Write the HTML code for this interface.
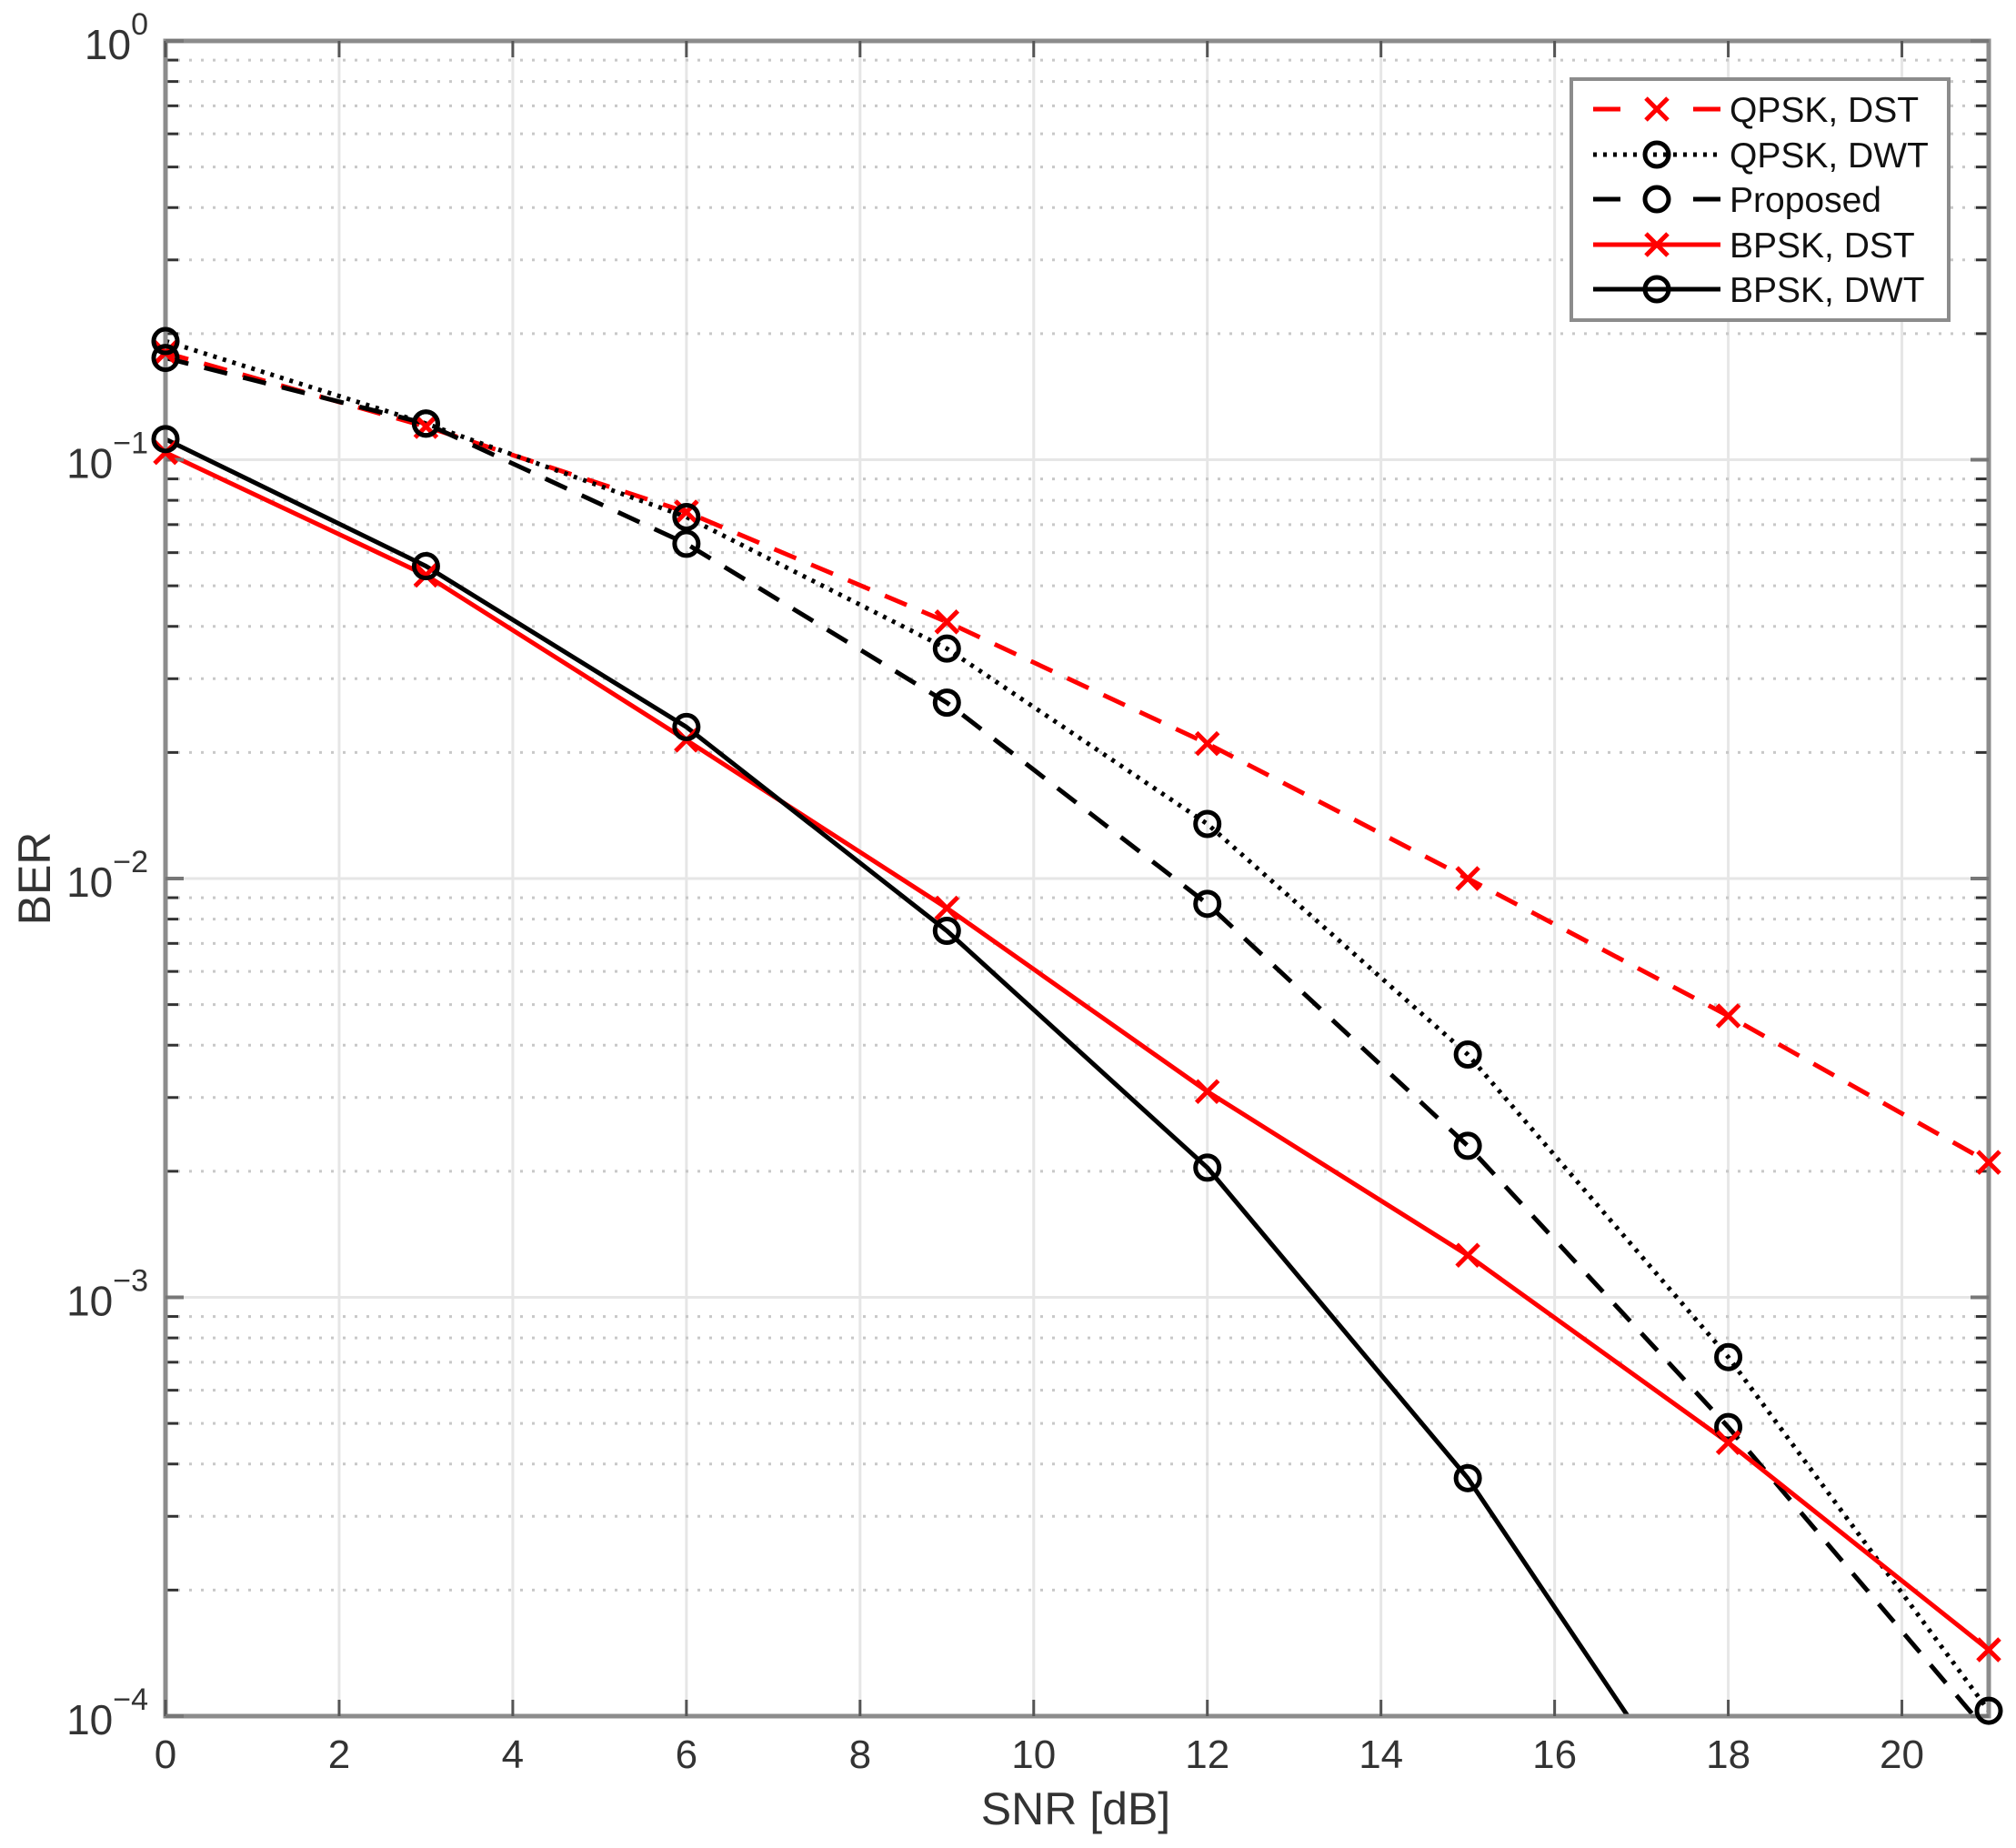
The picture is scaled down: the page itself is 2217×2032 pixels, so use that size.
<!DOCTYPE html>
<html><head><meta charset="utf-8"><style>
html,body{margin:0;padding:0;background:#fff;}
svg{display:block;font-family:"Liberation Sans",Arial,sans-serif;}
</style></head><body>
<svg id="chart" width="2217" height="2032" viewBox="0 0 2217 2032" xmlns="http://www.w3.org/2000/svg">
<defs><clipPath id="pc"><rect x="182" y="45" width="2005" height="1842"/></clipPath></defs>
<rect x="0" y="0" width="2217" height="2032" fill="#fff"/>
<g id="grid"></g>
<g id="series" clip-path="url(#pc)"></g>
<g id="axes"></g>
<g id="markers"></g>
<g id="legend"></g>
</svg>
<script>
const snr = [0, 3, 6, 9, 12, 15, 18, 21];
const qpskDst = [0.18, 0.12, 0.075, 0.041, 0.021, 0.0100, 0.0047, 0.0021];
const qpskDwt = [0.192, 0.122, 0.073, 0.0354, 0.0135, 0.0038, 0.00072, 0.000103];
const proposed = [0.175, 0.122, 0.063, 0.0263, 0.0087, 0.0023, 0.00049, 0.000091];
const bpskDst = [0.104, 0.053, 0.0214, 0.0085, 0.0031, 0.00126, 0.00045, 0.000144];
const bpskDwt = [0.112, 0.0557, 0.023, 0.0075, 0.00204, 0.00037, 0.000044];
const xTicks = [0, 2, 4, 6, 8, 10, 12, 14, 16, 18, 20];
const yDecades = [0, -1, -2, -3, -4];
const seriesNames = ["QPSK, DST", "QPSK, DWT", "Proposed", "BPSK, DST", "BPSK, DWT"];

const NS = "http://www.w3.org/2000/svg";
const X0 = 182, X1 = 2187, Y0 = 45, Y1 = 1887;
const xMin = 0, xMax = 21, lMin = -4, lMax = 0;
const sx = v => X0 + (v - xMin) / (xMax - xMin) * (X1 - X0);
const sy = v => Y1 - (Math.log10(v) - lMin) / (lMax - lMin) * (Y1 - Y0);
function mk(tag, attrs, parent) {
  const e = document.createElementNS(NS, tag);
  for (const k in attrs) e.setAttribute(k, attrs[k]);
  parent.appendChild(e);
  return e;
}
const grid = document.getElementById('grid');
const axes = document.getElementById('axes');
const ser = document.getElementById('series');
const mkr = document.getElementById('markers');
const leg = document.getElementById('legend');

xTicks.forEach(t => {
  const l = mk('line', {x1: sx(t), x2: sx(t), y1: Y0, y2: Y1, stroke: '#e6e6e6', 'stroke-width': 3}, grid);
  
  
});
yDecades.forEach(d => {
  const v = Math.pow(10, d);
  const l = mk('line', {x1: X0, x2: X1, y1: sy(v), y2: sy(v), stroke: '#e6e6e6', 'stroke-width': 3}, grid);
  
  
  if (d > lMin) {
    for (let m = 2; m <= 9; m++) {
      const y = sy(m * Math.pow(10, d - 1));
      const ml = mk('line', {x1: X0, x2: X1, y1: y, y2: y, stroke: '#c8c8c8', 'stroke-width': 3, 'stroke-dasharray': '3 10'}, grid);
      
      
      const tk = mk('line', {x1: X0, x2: X0 + 14, y1: y, y2: y, stroke: '#333', 'stroke-width': 3}, axes);
      
      
      const tk2 = mk('line', {x1: X1 - 14, x2: X1, y1: y, y2: y, stroke: '#333', 'stroke-width': 3}, axes);
      
      
    }
  }
});

function drawMarker(g, x, y, color, marker, name) {
  if (marker === 'o') {
    const c = mk('circle', {cx: x, cy: y, r: 13, fill: 'none', stroke: color, 'stroke-width': 5}, g);
    
    
  } else {
    const p = mk('path', {d: `M${x-12},${y-12}L${x+12},${y+12}M${x-12},${y+12}L${x+12},${y-12}`, stroke: color, 'stroke-width': 5, fill: 'none'}, g);
    
    
  }
}
function line(vals, color, dash, marker, name) {
  const g = mk('g', {}, ser);
  
  
  const pts = vals.map((v, i) => sx(snr[i]) + ',' + sy(v)).join(' ');
  const attrs = {points: pts, fill: 'none', stroke: color, 'stroke-width': 5, 'stroke-linejoin': 'round'};
  if (dash) attrs['stroke-dasharray'] = dash;
  const pl = mk('polyline', attrs, g);
  
  
  const mg = mk('g', {}, mkr);
  
  
  vals.forEach((v, i) => {
    const y = sy(v);
    if (y > Y1 + 10) return;
    drawMarker(mg, sx(snr[i]), y, color, marker, name + '-marker');
  });
}
const styles = [
  {vals: qpskDst, color: '#ff0000', dash: '26 18', marker: 'x', name: 'series-qpsk-dst'},
  {vals: qpskDwt, color: '#000', dash: '4 7', marker: 'o', name: 'series-qpsk-dwt'},
  {vals: proposed, color: '#000', dash: '26 18', marker: 'o', name: 'series-proposed'},
  {vals: bpskDst, color: '#ff0000', dash: null, marker: 'x', name: 'series-bpsk-dst'},
  {vals: bpskDwt, color: '#000', dash: null, marker: 'o', name: 'series-bpsk-dwt'}
];
styles.forEach(s => line(s.vals, s.color, s.dash, s.marker, s.name));

const box = mk('rect', {x: X0, y: Y0, width: X1 - X0, height: Y1 - Y0, fill: 'none', stroke: '#8c8c8c', 'stroke-width': 5}, axes);


xTicks.forEach(t => {
  const x = sx(t);
  const a = mk('line', {x1: x, x2: x, y1: Y1, y2: Y1 - 18, stroke: '#555', 'stroke-width': 3}, axes);
  
  
  const b = mk('line', {x1: x, x2: x, y1: Y0, y2: Y0 + 18, stroke: '#555', 'stroke-width': 3}, axes);
  
  
  const tx = mk('text', {x: x, y: 1944, 'font-size': 44, fill: '#333', 'text-anchor': 'middle'}, axes);
  tx.textContent = String(t);
  
  
});
yDecades.forEach(d => {
  const y = sy(Math.pow(10, d));
  const a = mk('line', {x1: X0, x2: X0 + 20, y1: y, y2: y, stroke: '#777', 'stroke-width': 4}, axes);
  
  
  const b = mk('line', {x1: X1 - 20, x2: X1, y1: y, y2: y, stroke: '#777', 'stroke-width': 4}, axes);
  
  
  const tx = mk('text', {x: 163, y: y + 20, 'font-size': 46, fill: '#333', 'text-anchor': 'end'}, axes);
  
  
  const t1 = mk('tspan', {}, tx);
  t1.textContent = '10';
  const t2 = mk('tspan', {dy: -27, 'font-size': 34}, tx);
  t2.textContent = (d === 0 ? '0' : '\u2212' + (-d));
});
const xl = mk('text', {x: 1183, y: 2006, 'font-size': 50, fill: '#333', 'text-anchor': 'middle'}, axes);
xl.textContent = 'SNR [dB]';


const yl = mk('text', {x: 0, y: 0, 'font-size': 50, fill: '#333', 'text-anchor': 'middle', transform: 'translate(55,966) rotate(-90)'}, axes);
yl.textContent = 'BER';



const lb = mk('rect', {x: 1728, y: 87, width: 415, height: 265, fill: '#fff', stroke: '#8c8c8c', 'stroke-width': 4}, leg);


const rowY = [120, 170, 219, 269, 318];
styles.forEach((s, i) => {
  const g = mk('g', {}, leg);
  
  
  const y = rowY[i];
  const attrs = {x1: 1752, x2: 1892, y1: y, y2: y, stroke: s.color, 'stroke-width': 5};
  if (s.dash) attrs['stroke-dasharray'] = s.dash === '4 7' ? '4 7' : '30 80';
  const ln = mk('line', attrs, g);
  
  
  drawMarker(g, 1822, y, s.color, s.marker, 'legend-marker');
  const t = mk('text', {x: 1902, y: y + 14, 'font-size': 39, fill: '#111'}, g);
  t.textContent = seriesNames[i];
  
  
});
</script>
</body></html>
